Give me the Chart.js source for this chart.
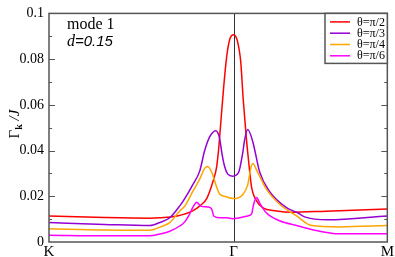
<!DOCTYPE html>
<html>
<head>
<meta charset="utf-8">
<script src="https://cdn.jsdelivr.net/npm/chart.js@4.4.1/dist/chart.umd.min.js"></script>
<style>
  html, body { margin: 0; padding: 0; background: #fff; }
  canvas { display: block; }
</style>
</head>
<body>
<canvas id="myChart" width="395" height="257"></canvas>
<script>
// path K -> Gamma -> M (K = 0, Gamma = 1)
const kMax = 1.832;
const pathTicks = [0, 1, kMax];
const pathLabels = ['K', 'Γ', 'M'];
const yTicks = [0, 0.02, 0.04, 0.06, 0.08, 0.1];

const seriesLabels = ['θ=π/2', 'θ=π/3', 'θ=π/4', 'θ=π/6'];
const seriesColors = ['#ff0000', '#9400d3', '#ffa500', '#ff00ff'];

const kRed = [0, 0.3, 0.55, 0.6, 0.7, 0.778, 0.82, 0.854, 0.886, 0.908, 0.919, 0.928, 0.945, 0.962, 0.98, 1.0, 1.02, 1.038, 1.052, 1.068, 1.08, 1.097, 1.124, 1.157, 1.232, 1.314, 1.5, 1.832];
const gRed = [0.0114, 0.0107, 0.0104, 0.0106, 0.0115, 0.0136, 0.016, 0.019, 0.026, 0.033, 0.041, 0.05, 0.067, 0.081, 0.089, 0.0907, 0.088, 0.079, 0.062, 0.046, 0.036, 0.024, 0.018, 0.015, 0.0136, 0.013, 0.0135, 0.0144];

const kViolet = [0, 0.3, 0.546, 0.6, 0.654, 0.708, 0.735, 0.778, 0.816, 0.843, 0.87, 0.903, 0.922, 0.938, 0.951, 0.968, 0.995, 1.027, 1.049, 1.06, 1.076, 1.103, 1.141, 1.195, 1.286, 1.341, 1.384, 1.508, 1.832];
const gViolet = [0.0085, 0.0077, 0.0072, 0.0085, 0.0106, 0.0158, 0.019, 0.025, 0.031, 0.04, 0.046, 0.0487, 0.046, 0.038, 0.033, 0.0297, 0.0288, 0.0305, 0.039, 0.045, 0.0492, 0.044, 0.0305, 0.022, 0.015, 0.013, 0.011, 0.0097, 0.0114];

const kOrange = [0, 0.3, 0.546, 0.6, 0.654, 0.708, 0.735, 0.778, 0.816, 0.843, 0.859, 0.881, 0.908, 0.924, 0.951, 1.0, 1.049, 1.076, 1.092, 1.103, 1.13, 1.178, 1.249, 1.341, 1.422, 1.573, 1.832];
const gOrange = [0.0058, 0.0052, 0.0051, 0.0065, 0.0085, 0.0136, 0.0157, 0.022, 0.0275, 0.0322, 0.033, 0.0305, 0.024, 0.021, 0.02, 0.019, 0.0207, 0.025, 0.032, 0.0343, 0.0305, 0.023, 0.0165, 0.0114, 0.0072, 0.0066, 0.0072];

const kMagenta = [0, 0.3, 0.546, 0.6, 0.654, 0.708, 0.735, 0.762, 0.778, 0.8, 0.822, 0.859, 0.881, 0.892, 0.924, 0.962, 0.995, 1.032, 1.076, 1.097, 1.108, 1.124, 1.141, 1.178, 1.249, 1.341, 1.422, 1.573, 1.832];
const gMagenta = [0.003, 0.0027, 0.0027, 0.0035, 0.0047, 0.007, 0.0088, 0.0123, 0.015, 0.0174, 0.0157, 0.0153, 0.0144, 0.0114, 0.0106, 0.0106, 0.0102, 0.0106, 0.0114, 0.0123, 0.0165, 0.0195, 0.017, 0.0127, 0.0093, 0.0072, 0.0055, 0.0036, 0.0036];

const allK = [kRed, kViolet, kOrange, kMagenta];
const allG = [gRed, gViolet, gOrange, gMagenta];

function points(ks, gs) {
    return ks.map((k, i) => ({ x: k, y: gs[i] }));
}

const frameColor = '#555';

// frame, inward ticks, Gamma line, legend box and text notes
const decorations = {
    id: 'decorations',
    beforeDatasetsDraw(chart) {
        const c = chart.ctx, a = chart.chartArea;
        const xs = chart.scales.x;
        const gx = Math.round(xs.getPixelForValue(1)) + 0.5;
        c.save();
        c.strokeStyle = '#333';
        c.lineWidth = 1;
        c.beginPath();
        c.moveTo(gx, a.top);
        c.lineTo(gx, a.bottom);
        c.stroke();
        c.restore();
    },
    afterDatasetsDraw(chart) {
        const c = chart.ctx, a = chart.chartArea;
        const ys = chart.scales.y;
        c.save();
        c.strokeStyle = frameColor;
        c.lineWidth = 1.5;
        c.strokeRect(a.left, a.top, a.right - a.left, a.bottom - a.top);

        // y ticks, majors every 0.02 and minors in between, drawn inward on both sides
        c.lineWidth = 1;
        for (let i = 1; i < 10; i++) {
            const v = i * 0.01;
            const py = Math.round(ys.getPixelForValue(v)) + 0.5;
            const len = i % 2 === 0 ? 6 : 3;
            c.beginPath();
            c.moveTo(a.left, py); c.lineTo(a.left + len, py);
            c.moveTo(a.right, py); c.lineTo(a.right - len, py);
            c.stroke();
        }

        // legend
        const lx = 325, ly = a.top, lw = a.right - lx, lh = 50;
        c.fillStyle = '#fff';
        c.fillRect(lx, ly, lw, lh);
        c.strokeStyle = frameColor;
        c.lineWidth = 1.5;
        c.strokeRect(lx, ly, lw, lh);
        c.font = '12px "Liberation Serif"';
        c.textBaseline = 'middle';
        c.textAlign = 'left';
        chart.data.datasets.forEach((ds, i) => {
            const ry = ly + 8.5 + i * 11.3;
            c.strokeStyle = ds.borderColor;
            c.lineWidth = 1.5;
            c.beginPath();
            c.moveTo(lx + 5, ry); c.lineTo(lx + 25, ry);
            c.stroke();
            c.fillStyle = '#000';
            c.fillText(ds.label, lx + 32, ry + 0.5);
        });

        // notes
        c.fillStyle = '#000';
        c.textBaseline = 'alphabetic';
        c.font = '16px "Liberation Serif"';
        c.fillText('mode 1', 67, 29);
        c.font = 'italic 16px "Liberation Serif"';
        c.fillText('d', 67, 46);
        const dw = c.measureText('d').width;
        c.font = 'italic 15px "Liberation Sans"';
        c.fillText('=0.15', 67 + dw, 46);

        // y title: Gamma_k / J
        c.translate(14, 124);
        c.rotate(-Math.PI / 2);
        c.textAlign = 'left';
        c.font = '15px "Liberation Serif"';
        const parts = [
            { t: 'Γ', f: '15px "Liberation Serif"', dy: 0 },
            { t: 'k', f: 'bold 10px "Liberation Serif"', dy: 3 },
            { t: ' /J', f: 'italic 15px "Liberation Serif"', dy: 0 }
        ];
        let total = 0;
        parts.forEach(p => { c.font = p.f; total += c.measureText(p.t).width; });
        let px = -total / 2;
        parts.forEach(p => {
            c.font = p.f;
            c.fillText(p.t, px, 5 + p.dy);
            px += c.measureText(p.t).width;
        });
        c.restore();
    }
};

const ctx = document.getElementById('myChart');

new Chart(ctx, {
    type: 'line',
    data: {
        datasets: seriesLabels.map((label, i) => ({
            label: label,
            data: points(allK[i], allG[i]),
            borderColor: seriesColors[i],
            borderWidth: 1.5,
            pointRadius: 0,
            cubicInterpolationMode: 'monotone',
            fill: false,
            order: 3 - i
        }))
    },
    options: {
        responsive: false,
        animation: false,
        devicePixelRatio: 1,
        layout: { padding: { top: 6, right: 7, left: 0, bottom: 0 } },
        plugins: {
            legend: { display: false },
            tooltip: { enabled: false }
        },
        scales: {
            x: {
                type: 'linear',
                min: 0,
                max: kMax,
                afterBuildTicks: (scale) => {
                    scale.ticks = pathTicks.map(v => ({ value: v }));
                },
                afterFit: (scale) => { scale.height = 15; },
                ticks: {
                    autoSkip: false,
                    maxRotation: 0,
                    padding: 1,
                    color: '#000',
                    font: { family: 'Liberation Serif', size: 15 },
                    callback: (v) => pathLabels[pathTicks.indexOf(v)]
                },
                grid: { display: false, drawTicks: false },
                border: { display: false }
            },
            y: {
                min: 0,
                max: 0.1,
                afterBuildTicks: (scale) => {
                    scale.ticks = yTicks.map(v => ({ value: v }));
                },
                afterFit: (scale) => { scale.width = 49; },
                ticks: {
                    padding: 5,
                    color: '#000',
                    font: { family: 'Liberation Serif', size: 14 },
                    callback: (v) => v === 0 ? '0' : String(+v.toFixed(2))
                },
                grid: { display: false, drawTicks: false },
                border: { display: false }
            }
        }
    },
    plugins: [decorations]
});
</script>
</body>
</html>
